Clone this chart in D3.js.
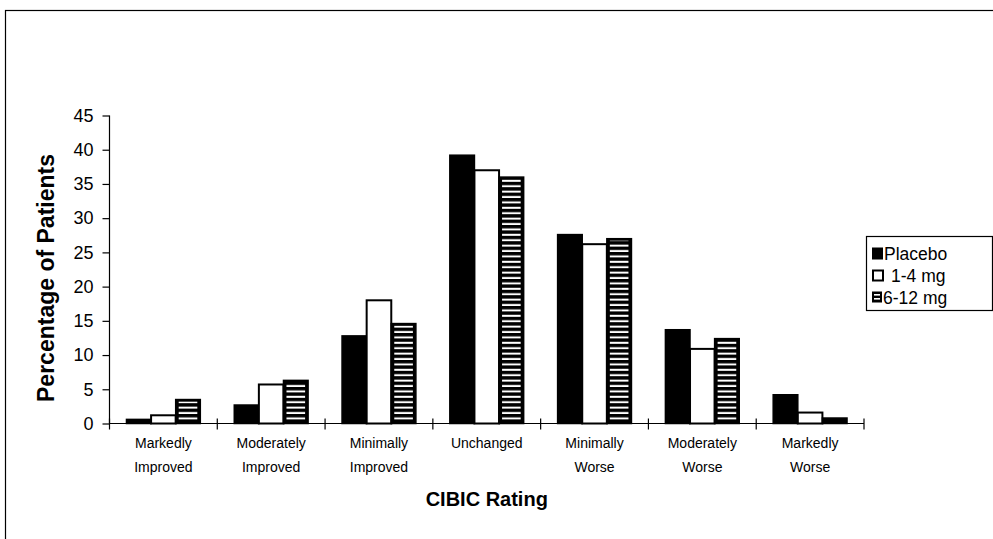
<!DOCTYPE html>
<html>
<head>
<meta charset="utf-8">
<script src="https://cdn.jsdelivr.net/npm/d3@7"></script>
<style>
  html, body { margin: 0; padding: 0; background: #fff; }
  svg { display: block; }
  text { font-family: "Liberation Sans", Arial, sans-serif; fill: #000; }
</style>
</head>
<body>
<svg id="chart" width="993" height="539"></svg>
<script>
// ---- data ----
const categories = [
  ["Markedly", "Improved"],
  ["Moderately", "Improved"],
  ["Minimally", "Improved"],
  ["Unchanged"],
  ["Minimally", "Worse"],
  ["Moderately", "Worse"],
  ["Markedly", "Worse"]
];
const seriesNames = ["Placebo", "1-4 mg", "6-12 mg"];
const placebo = [0.6, 2.7, 12.8, 39.2, 27.6, 13.7, 4.2];
const lowDose = [1.2, 5.7, 18.0, 37.0, 26.2, 10.9, 1.6];
const highDose = [3.5, 6.3, 14.6, 36.0, 27.0, 12.4, 0.8];
const yTicks = [0, 5, 10, 15, 20, 25, 30, 35, 40, 45];
const yTitle = "Percentage of Patients";
const xTitle = "CIBIC Rating";

const seriesValues = [placebo, lowDose, highDose];

const svg = d3.select("#chart");

// stripe pattern
const defs = svg.append("defs");
const pat = defs.append("pattern")
  .attr("id", "stripes")
  .attr("patternUnits", "userSpaceOnUse")
  .attr("width", 8).attr("height", 5.4);
pat.append("rect").attr("width", 8).attr("height", 5.4).attr("fill", "#000");
pat.append("rect").attr("y", 1.6).attr("width", 8).attr("height", 2).attr("fill", "#fff");

// outer border
svg.append("rect")
  .attr("x", 5.5).attr("y", 10.5)
  .attr("width", 1100).attr("height", 700)
  .attr("fill", "none").attr("stroke", "#000").attr("stroke-width", 1.2);

const plotLeft = 109.5, plotRight = 864, yZero = 423.5, yTop = 115.5;

const x = d3.scaleBand()
  .domain(d3.range(categories.length))
  .range([plotLeft, plotRight])
  .paddingInner(0).paddingOuter(0);

const y = d3.scaleLinear().domain([0, 45]).range([yZero, yTop]);

const groupW = x.bandwidth() * 0.685;
const xs = d3.scaleBand().domain(d3.range(seriesNames.length)).range([0, groupW]);

// bars
const g = svg.append("g");
seriesValues.forEach((vals, si) => {
  vals.forEach((v, ci) => {
    const bx = x(ci) + (x.bandwidth() - groupW) / 2 + xs(si);
    const by = y(v);
    const bw = xs.bandwidth();
    const bh = y(0) - y(v);
    if (si === 0) {
      g.append("rect").attr("x", bx).attr("y", by).attr("width", bw).attr("height", bh)
        .attr("fill", "#000").attr("stroke", "#000").attr("stroke-width", 1.5);
    } else if (si === 1) {
      g.append("rect").attr("x", bx).attr("y", by).attr("width", bw).attr("height", bh)
        .attr("fill", "#fff").attr("stroke", "#000").attr("stroke-width", 2);
    } else {
      g.append("rect").attr("x", bx).attr("y", by).attr("width", bw).attr("height", bh)
        .attr("fill", "#000").attr("stroke", "#000").attr("stroke-width", 1.5);
      if (bw > 6 && bh > 5) {
        g.append("rect").attr("x", bx + 3).attr("y", by + 2).attr("width", bw - 6).attr("height", Math.max(0, bh - 4))
          .attr("fill", "url(#stripes)");
      } else if (bh > 2.5) {
        g.append("rect").attr("x", bx + 3).attr("y", by + 2).attr("width", bw - 6).attr("height", Math.max(0, bh - 4))
          .attr("fill", "#fff");
      }
    }
  });
});

// y axis
const yAxis = d3.axisLeft(y).tickValues(yTicks).tickSize(7).tickPadding(9).tickFormat(d3.format("d"));
const ya = svg.append("g").attr("transform", `translate(${plotLeft},0)`).call(yAxis);
ya.select(".domain").attr("stroke", "#000").attr("stroke-width", 1.2).attr("d", `M0,${yTop}V${yZero}`);
ya.selectAll(".tick line").attr("stroke", "#000").attr("stroke-width", 1.2);
ya.selectAll(".tick text").style("font-family", '"Liberation Sans", Arial, sans-serif').style("font-size", "18px").attr("fill", "#000");

// x axis line and cross ticks
svg.append("line").attr("x1", plotLeft).attr("x2", plotRight).attr("y1", yZero).attr("y2", yZero)
  .attr("stroke", "#000").attr("stroke-width", 1.2);
const bounds = d3.range(categories.length + 1).map(i => i < categories.length ? x(i) : plotRight);
svg.selectAll(".xtick").data(bounds).enter().append("line")
  .attr("x1", d => d).attr("x2", d => d).attr("y1", yZero - 5).attr("y2", yZero + 6)
  .attr("stroke", "#000").attr("stroke-width", 1.2);

// category labels
categories.forEach((lines, ci) => {
  const cx = x(ci) + x.bandwidth() / 2;
  const t = svg.append("text").attr("text-anchor", "middle").attr("font-size", 14);
  lines.forEach((ln, li) => {
    t.append("tspan").attr("x", cx).attr("y", 448 + li * 24).text(ln);
  });
});

// axis titles
svg.append("text").attr("x", (plotLeft + plotRight) / 2 + 0).attr("y", 506)
  .attr("text-anchor", "middle").attr("font-size", 20).attr("font-weight", "bold").text(xTitle);
svg.append("text").attr("transform", "translate(54,278) rotate(-90)")
  .attr("text-anchor", "middle").attr("font-size", 23).attr("font-weight", "bold").text(yTitle);

// legend
const lg = svg.append("g");
lg.append("rect").attr("x", 866.5).attr("y", 236.5).attr("width", 126).attr("height", 74)
  .attr("fill", "#fff").attr("stroke", "#000").attr("stroke-width", 1.2);
const legY = [259.5, 281.5, 303.5];
// placebo symbol
lg.append("rect").attr("x", 872).attr("y", legY[0] - 12).attr("width", 11).attr("height", 12).attr("fill", "#000");
lg.append("text").attr("x", 884).attr("y", legY[0]).attr("font-size", 17.5).text(seriesNames[0]);
lg.append("rect").attr("x", 873).attr("y", legY[1] - 11).attr("width", 10).attr("height", 10)
  .attr("fill", "#fff").attr("stroke", "#000").attr("stroke-width", 2);
lg.append("text").attr("x", 891).attr("y", legY[1]).attr("font-size", 17.5).text(seriesNames[1]);
lg.append("rect").attr("x", 872).attr("y", legY[2] - 12).attr("width", 10).attr("height", 11)
  .attr("fill", "#000");
lg.append("rect").attr("x", 874).attr("y", legY[2] - 9.5).attr("width", 6).attr("height", 1.6).attr("fill", "#fff");
lg.append("rect").attr("x", 874).attr("y", legY[2] - 5.5).attr("width", 6).attr("height", 1.6).attr("fill", "#fff");
lg.append("text").attr("x", 883).attr("y", legY[2]).attr("font-size", 17.5).text(seriesNames[2]);
</script>
</body>
</html>
